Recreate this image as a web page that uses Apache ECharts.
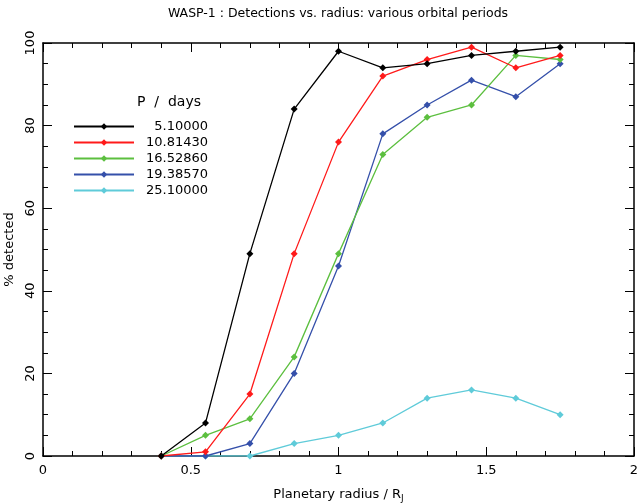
<!DOCTYPE html>
<html><head><meta charset="utf-8">
<script src="https://cdn.jsdelivr.net/npm/echarts@6/dist/echarts.min.js"></script>
<style>html,body{margin:0;padding:0;background:#fff}#c{width:638px;height:503px}</style>
</head><body><div id="c"></div>
<script>
const radius = [0.4, 0.55, 0.7, 0.85, 1.0, 1.15, 1.3, 1.45, 1.6, 1.75];
const periodNames = ['5.10000', '10.81430', '16.52860', '19.38570', '25.10000'];
const p5_10 = [0, 8, 49, 84, 98, 94, 95, 97, 98, 99];
const p10_81 = [0, 1, 15, 49, 76, 92, 96, 99, 94, 97];
const p16_53 = [0, 5, 9, 24, 49, 73, 82, 85, 97, 96];
const p19_39 = [0, 0, 3, 20, 46, 78, 85, 91, 87, 95];
const p25_10 = [0, 0, 0, 3, 5, 8, 14, 16, 14, 10];
const colors = ['#000000', '#ff1a1a', '#5cbf3f', '#3550aa', '#5fcbd9'];
const allValues = [p5_10, p10_81, p16_53, p19_39, p25_10];

const FONT = 'DejaVu Sans';
const chart = echarts.init(document.getElementById('c'));
const axisCommon = {
  axisLine: {onZero: false, lineStyle: {color: '#000', width: 1.5}},
  axisTick: {inside: true, length: 9, lineStyle: {color: '#000', width: 1}},
  splitLine: {show: false}
};
const minorX = {minorTick: {show: true, splitNumber: 5, length: 5, lineStyle: {color: '#000', width: 1}}};
const minorY = {minorTick: {show: true, splitNumber: 4, length: 5, lineStyle: {color: '#000', width: 1}}};
const series = allValues.map((vals, i) => ({
  name: periodNames[i],
  type: 'line',
  data: radius.map((r, j) => [r, vals[j]]),
  symbol: 'diamond',
  symbolSize: 7,
  itemStyle: {color: colors[i]},
  lineStyle: {color: colors[i], width: 1.3},
  z: 10 - i,
  animation: false
}));
chart.setOption({
  animation: false,
  backgroundColor: '#fff',
  title: [{
    text: 'WASP-1 : Detections vs. radius: various orbital periods',
    left: 338, top: 7, textAlign: 'center', padding: 0,
    textStyle: {fontFamily: FONT, fontSize: 12.5, fontWeight: 'normal', color: '#000'}
  }, {
    text: 'P  /  days', left: 137, top: 95, padding: 0,
    textStyle: {fontFamily: FONT, fontSize: 14, fontWeight: 'normal', color: '#000'}
  }],
  legend: {
    orient: 'vertical', left: 73, top: 120, padding: 0,
    itemWidth: 60, itemHeight: 8, itemGap: 3,
    data: periodNames,
    formatter: n => '{a|' + n + '}',
    textStyle: {fontFamily: FONT, fontSize: 13, color: '#000',
      rich: {a: {width: 69, align: 'right', fontFamily: FONT, fontSize: 13}}}
  },
  grid: {left: 43, right: 4, top: 43, bottom: 47, outerBoundsMode: 'none', containLabel: false},
  xAxis: [Object.assign({
    type: 'value', min: 0, max: 2, interval: 0.5, position: 'bottom',
    axisLabel: {fontFamily: FONT, fontSize: 13, color: '#000', margin: 8,
      formatter: v => String(v)},
    name: 'Planetary radius / R{s|J}', nameLocation: 'middle', nameGap: 30,
    nameTextStyle: {fontFamily: FONT, fontSize: 13, color: '#000',
      rich: {s: {fontFamily: FONT, fontSize: 9, verticalAlign: 'bottom', padding: [8, 0, 0, 0]}}}
  }, axisCommon, minorX),
  Object.assign({
    type: 'value', min: 0, max: 2, interval: 0.5, position: 'top',
    axisLabel: {show: false}
  }, axisCommon, minorX)],
  yAxis: [Object.assign({
    type: 'value', min: 0, max: 100, interval: 20, position: 'left',
    axisLabel: {fontFamily: FONT, fontSize: 13, color: '#000', rotate: 90, margin: 6},
    name: '% detected', nameLocation: 'middle', nameGap: 22,
    nameTextStyle: {fontFamily: FONT, fontSize: 13, color: '#000'}
  }, axisCommon, minorY),
  Object.assign({
    type: 'value', min: 0, max: 100, interval: 20, position: 'right',
    axisLabel: {show: false}
  }, axisCommon, minorY)],
  series: series
});
</script></body></html>
